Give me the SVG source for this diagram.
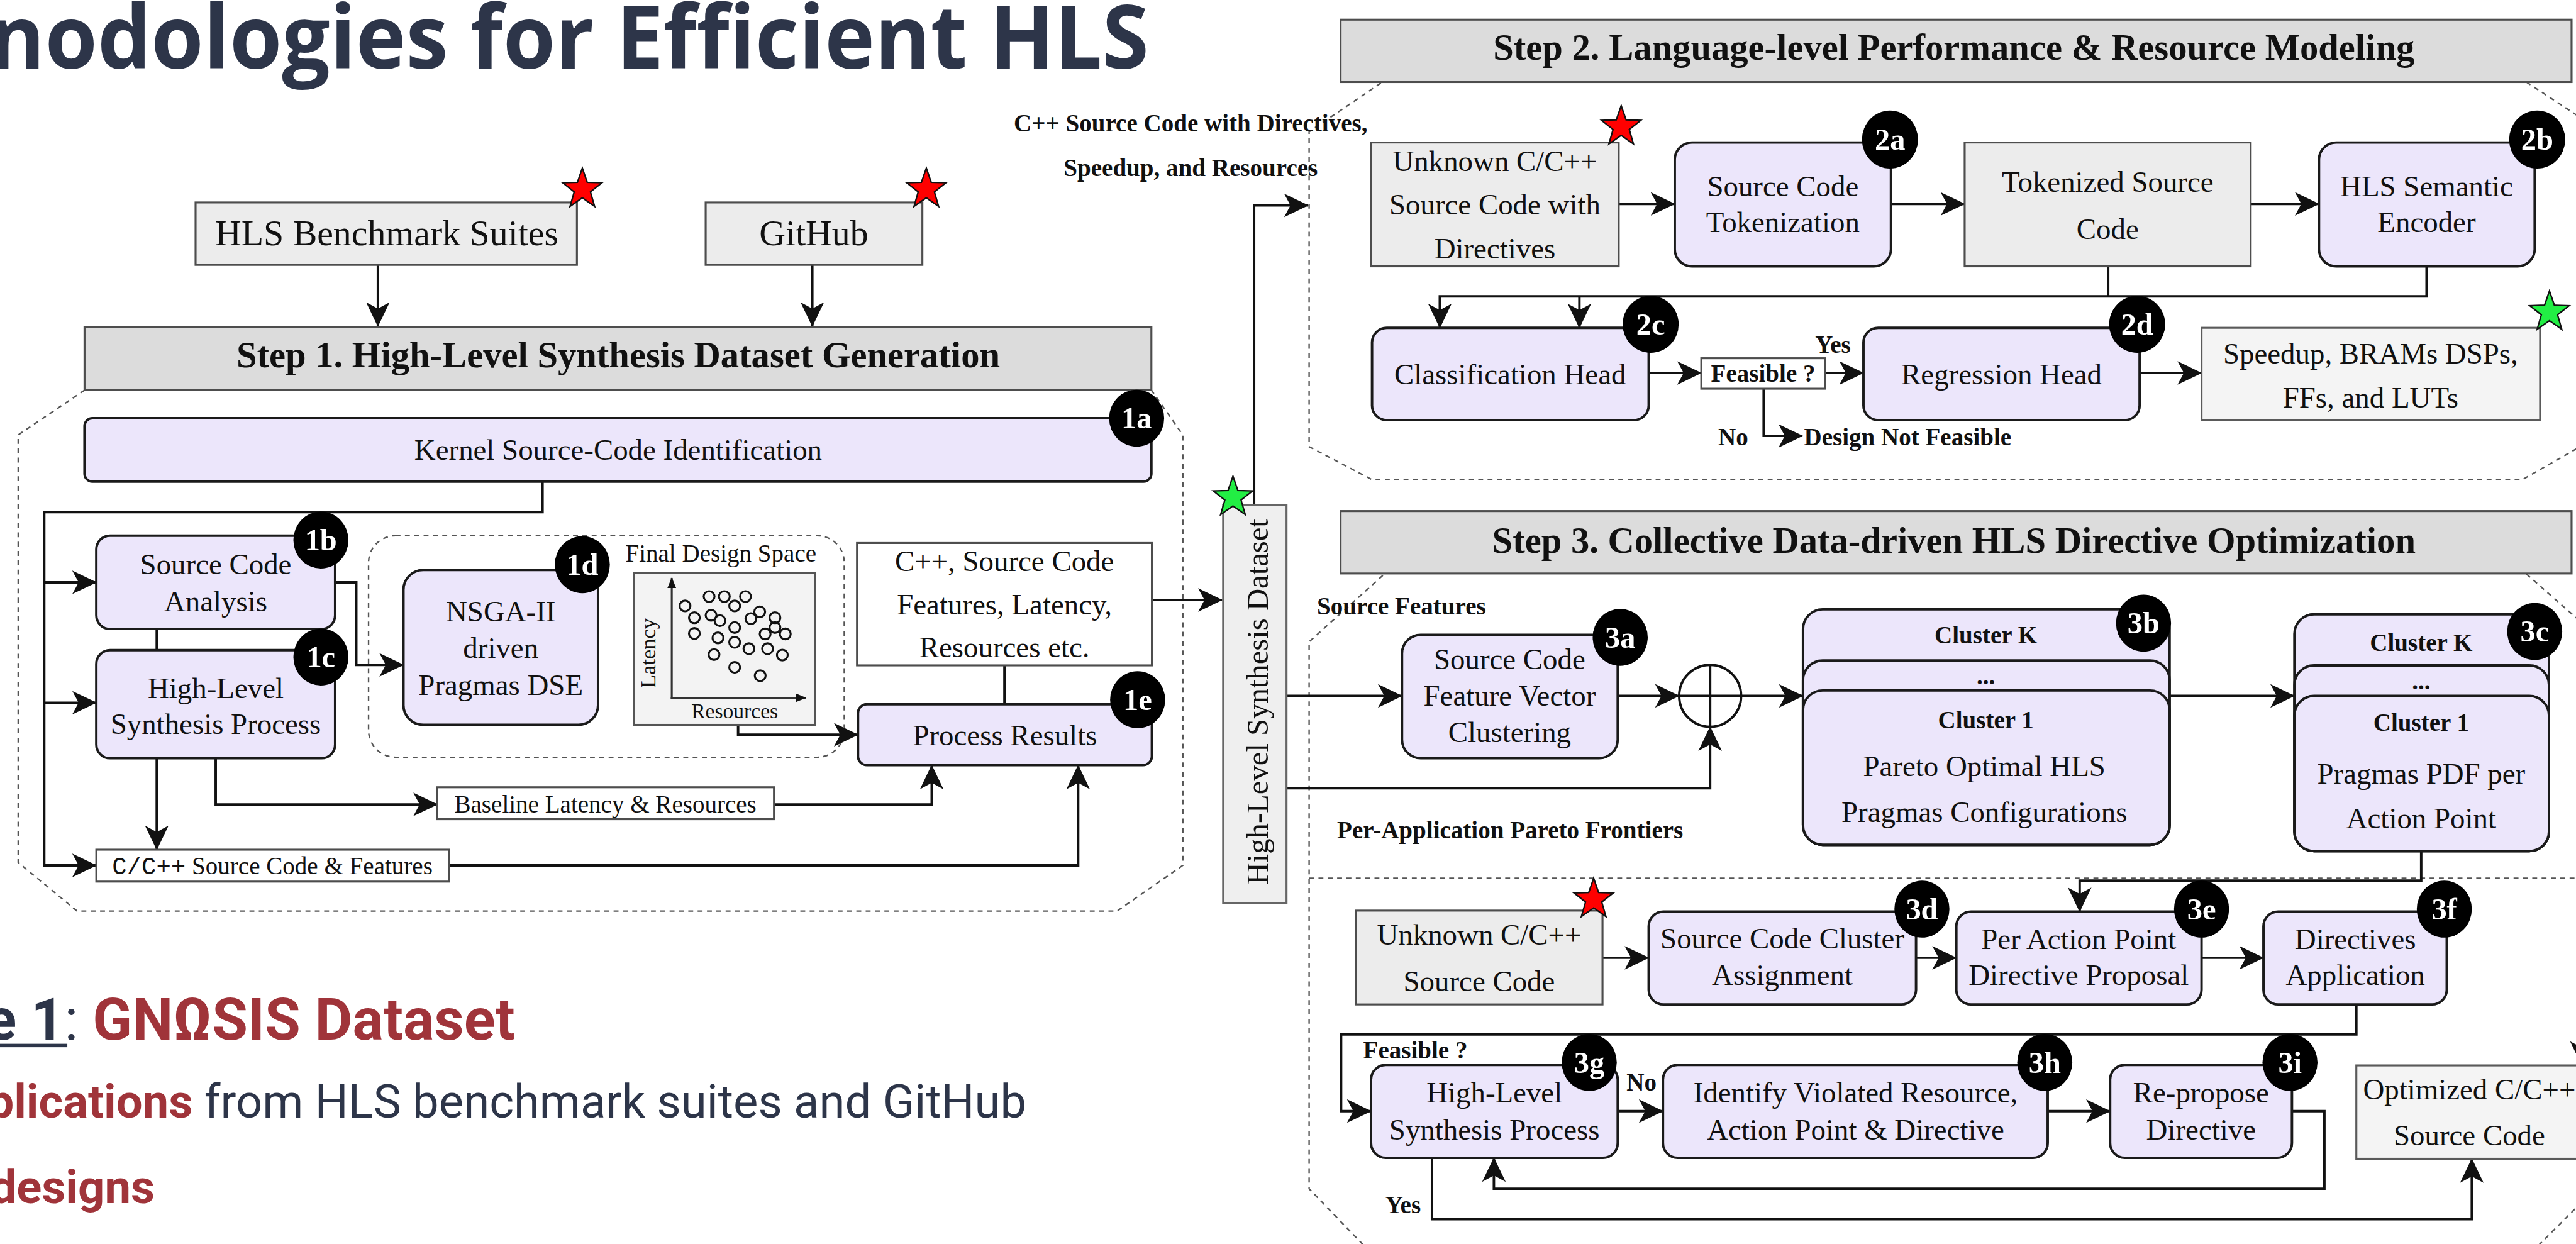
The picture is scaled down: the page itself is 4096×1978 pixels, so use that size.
<svg xmlns="http://www.w3.org/2000/svg" width="4096" height="1978" viewBox="0 0 4096 1978">
<defs>
<style>
.n{fill:#ece6fb;stroke:#1a1a1a;stroke-width:5}
.g{fill:#ececec;stroke:#4d4d4d;stroke-width:4}
.h{fill:#dcdcdc;stroke:#4d4d4d;stroke-width:4}
.w{fill:#ffffff;stroke:#4d4d4d;stroke-width:4}
.l{fill:#f4f4f4;stroke:#5a5a5a;stroke-width:4}
.d{fill:none;stroke:#555;stroke-width:3;stroke-dasharray:10 9}
.c{fill:none;stroke:#111;stroke-width:5}
.ca{fill:none;stroke:#111;stroke-width:5;marker-end:url(#ah)}
.ax{fill:none;stroke:#333;stroke-width:4;marker-end:url(#sa)}
.dot{fill:none;stroke:#111;stroke-width:4}
text{font-family:"Liberation Serif","Times New Roman",serif;fill:#111}
.t{font-size:60px;text-anchor:middle}
.hd{font-size:75px;font-weight:bold;text-anchor:middle}
.lb{font-size:50px;font-weight:bold}
.m{text-anchor:middle}
.bg{fill:#000}
.bt{fill:#fff;font-size:62px;font-weight:bold;text-anchor:middle}
.rs{fill:#ff0000;stroke:#111;stroke-width:3}
.gs{fill:#22ee44;stroke:#111;stroke-width:3}
text.sans{font-family:Roboto,"Liberation Sans",sans-serif}
text.ttl{font-family:"Open Sans","Noto Sans",sans-serif;font-weight:700;fill:#2d3549}
.navy{fill:#2d3549}
.red{fill:#a0343a}
</style>
<marker id="ah" markerUnits="userSpaceOnUse" markerWidth="50" markerHeight="50" viewBox="0 0 50 50" refX="49" refY="25" orient="auto"><path d="M0,1 L50,25 L0,49 L13,25 Z" fill="#111"/></marker>
<marker id="sa" markerUnits="userSpaceOnUse" markerWidth="22" markerHeight="18" viewBox="0 0 22 18" refX="21" refY="9" orient="auto"><path d="M0,0 L22,9 L0,18 Z" fill="#111"/></marker>
<path id="star" d="M0,-43 L10,-14 L40,-13 L16.5,5.5 L25,35 L0,17.5 L-25,35 L-16.5,5.5 L-40,-13 L-10,-14 Z"/>
</defs>
<rect width="4096" height="1978" fill="#ffffff"/>
<g transform="scale(0.78138)">

<!-- Title and side text -->
<g id="title">
<text class="ttl" x="-22" y="140" font-size="180" textLength="2360" lengthAdjust="spacingAndGlyphs">nodologies for Efficient HLS</text>
</g>
<g id="bullets">
<text class="sans navy" y="2115" font-size="118"><tspan x="-30" font-weight="700" class="navy">e 1</tspan><tspan class="navy">: </tspan><tspan font-weight="700" class="red">GNΩSIS Dataset</tspan></text>
<rect x="0" y="2124" width="137" height="7" fill="#2d3549"/>
<text class="sans navy" y="2274" font-size="95"><tspan x="-25" font-weight="700" class="red">plications</tspan><tspan class="navy"> from HLS benchmark suites and GitHub</tspan></text>
<text class="sans red" x="-20" y="2448" font-size="95" font-weight="700">designs</text>
</g>

<!-- dashed regions -->
<g id="regions">
<path class="d" d="M172,794 L37,885 L37,1755 L157,1854 L2273,1854 L2407,1761 L2407,885 L2343,794"/>
<rect class="d" x="750" y="1090" width="968" height="451" rx="55"/>
<path class="d" d="M2810,169 L2664,268 L2664,909 L2792,976 L5133,976 L5275,895"/>
<path class="d" d="M5141,167 L5275,255"/>
<path class="d" d="M2814,1171 L2664,1306 L2664,2419 L2800,2560"/>
<path class="d" d="M5141,1168 L5280,1290"/>
<path class="d" d="M5280,2420 L5140,2560"/>
<path class="d" d="M2664,1787 L5280,1787"/>
</g>

<!-- connectors -->
<g id="connectors">
<path class="ca" d="M769,539 V664"/>
<path class="ca" d="M1653,539 V664"/>
<path class="ca" d="M1104,980 V1042 H90 V1761 H196"/>
<path class="ca" d="M90,1185 H196"/>
<path class="ca" d="M90,1430 H196"/>
<path class="c" d="M319,1280 V1323"/>
<path class="ca" d="M682,1185 H725 V1353 H821"/>
<path class="ca" d="M319,1543 V1729"/>
<path class="ca" d="M439,1543 V1637 H890"/>
<path class="ca" d="M1575,1637 H1896 V1557"/>
<path class="ca" d="M914,1761 H2194 V1557"/>
<path class="ca" d="M1502,1475 V1495 H1746"/>
<path class="c" d="M2044,1354 V1433"/>
<path class="ca" d="M2344,1221 H2487"/>
<path class="ca" d="M2552,1028 V418 H2662"/>
<path class="ca" d="M3294,415 H3408"/>
<path class="ca" d="M3848,415 H3998"/>
<path class="ca" d="M4580,415 H4719"/>
<path class="c" d="M4290,542 V603"/>
<path class="ca" d="M4938,542 V603 H2930 V667"/>
<path class="ca" d="M3214,603 V667"/>
<path class="ca" d="M3355,759 H3462"/>
<path class="ca" d="M3714,759 H3792"/>
<path class="ca" d="M3589,791 V887 H3668"/>
<path class="ca" d="M4354,759 H4480"/>
<path class="ca" d="M2618,1416 H2853"/>
<path class="ca" d="M3292,1416 H3417"/>
<path class="ca" d="M2618,1604 H3480 V1479"/>
<path class="ca" d="M3543,1416 H3669"/>
<path class="ca" d="M4415,1416 H4669"/>
<path class="ca" d="M4927,1732 V1792 H4232 V1855"/>
<path class="ca" d="M3261,1949 H3355"/>
<path class="ca" d="M3899,1949 H3981"/>
<path class="ca" d="M4480,1949 H4606"/>
<path class="ca" d="M4795,2044 V2105 H2729 V2261 H2790"/>
<path class="ca" d="M3292,2261 H3384"/>
<path class="ca" d="M4167,2261 H4294"/>
<path class="ca" d="M4664,2261 H4730 V2419 H3040 V2356"/>
<path class="ca" d="M2914,2356 V2481 H5030 V2358"/>
<path class="ca" d="M5254,2080 V2168"/>
</g>

<!-- connector labels -->
<g id="labels">
<text class="lb m" x="2423" y="267">C++ Source Code with Directives,</text>
<text class="lb m" x="2423" y="358">Speedup, and Resources</text>
<text class="lb m" x="3730" y="718">Yes</text>
<text class="lb m" x="3527" y="906">No</text>
<text class="lb" x="3671" y="906">Design Not Feasible</text>
<text class="lb" x="2680" y="1250">Source Features</text>
<text class="lb m" x="3073" y="1706">Per-Application Pareto Frontiers</text>
<text class="lb" x="2774" y="2154">Feasible ?</text>
<text class="lb" x="3310" y="2219">No</text>
<text class="lb" x="2819" y="2469">Yes</text>
</g>

<!-- Step 1 -->
<g id="hls-bench">
<rect class="g" x="398" y="412" width="776" height="127"/>
<text class="m" font-size="74" x="787" y="499">HLS Benchmark Suites</text>
<use href="#star" class="rs" x="1185" y="385"/>
</g>
<g id="github">
<rect class="g" x="1436" y="412" width="441" height="127"/>
<text class="m" font-size="74" x="1656" y="499">GitHub</text>
<use href="#star" class="rs" x="1885" y="385"/>
</g>
<g id="step1-header">
<rect class="h" x="172" y="665" width="2171" height="128"/>
<text class="hd" x="1258" y="748">Step 1. High-Level Synthesis Dataset Generation</text>
</g>
<g id="n1a">
<rect class="n" x="172" y="851" width="2171" height="129" rx="16"/>
<text class="t" x="1258" y="936">Kernel Source-Code Identification</text>
<ellipse class="bg" cx="2313" cy="851" rx="56" ry="58"/><text class="bt" x="2313" y="872">1a</text>
</g>
<g id="n1b">
<rect class="n" x="196" y="1090" width="486" height="190" rx="28"/>
<text class="t" x="439" y="1168">Source Code</text>
<text class="t" x="439" y="1244">Analysis</text>
<ellipse class="bg" cx="653" cy="1099" rx="56" ry="58"/><text class="bt" x="653" y="1120">1b</text>
</g>
<g id="n1c">
<rect class="n" x="196" y="1323" width="486" height="220" rx="28"/>
<text class="t" x="439" y="1420">High-Level</text>
<text class="t" x="439" y="1493">Synthesis Process</text>
<ellipse class="bg" cx="653" cy="1337" rx="56" ry="58"/><text class="bt" x="653" y="1358">1c</text>
</g>
<g id="n1d">
<rect class="n" x="821" y="1160" width="396" height="315" rx="40"/>
<text class="t" x="1019" y="1264">NSGA-II</text>
<text class="t" x="1019" y="1339">driven</text>
<text class="t" x="1019" y="1414">Pragmas DSE</text>
<ellipse class="bg" cx="1185" cy="1149" rx="56" ry="58"/><text class="bt" x="1185" y="1170">1d</text>
</g>
<g id="design-space">
<text class="m" font-size="50" x="1467" y="1143">Final Design Space</text>
<rect x="1290" y="1166" width="369" height="309" fill="#f3f3f3" stroke="#555" stroke-width="4"/>
<path class="ax" d="M1367,1422 V1176"/>
<path class="ax" d="M1365,1420 H1640"/>
<text class="m" font-size="44" transform="translate(1333,1329) rotate(-90)">Latency</text>
<text class="m" font-size="43" x="1495" y="1462">Resources</text>
<circle class="dot" cx="1443" cy="1214" r="11"/>
<circle class="dot" cx="1474" cy="1214" r="11"/>
<circle class="dot" cx="1517" cy="1214" r="11"/>
<circle class="dot" cx="1495" cy="1233" r="11"/>
<circle class="dot" cx="1394" cy="1233" r="11"/>
<circle class="dot" cx="1413" cy="1257" r="11"/>
<circle class="dot" cx="1447" cy="1252" r="11"/>
<circle class="dot" cx="1465" cy="1263" r="11"/>
<circle class="dot" cx="1495" cy="1277" r="11"/>
<circle class="dot" cx="1528" cy="1259" r="11"/>
<circle class="dot" cx="1546" cy="1245" r="11"/>
<circle class="dot" cx="1577" cy="1257" r="11"/>
<circle class="dot" cx="1577" cy="1277" r="11"/>
<circle class="dot" cx="1557" cy="1290" r="11"/>
<circle class="dot" cx="1598" cy="1290" r="11"/>
<circle class="dot" cx="1413" cy="1289" r="11"/>
<circle class="dot" cx="1461" cy="1298" r="11"/>
<circle class="dot" cx="1495" cy="1307" r="11"/>
<circle class="dot" cx="1524" cy="1320" r="11"/>
<circle class="dot" cx="1562" cy="1320" r="11"/>
<circle class="dot" cx="1592" cy="1333" r="11"/>
<circle class="dot" cx="1453" cy="1332" r="11"/>
<circle class="dot" cx="1495" cy="1358" r="11"/>
<circle class="dot" cx="1547" cy="1375" r="11"/>
</g>
<g id="results-box">
<rect class="w" x="1744" y="1105" width="600" height="249"/>
<text class="t" x="2044" y="1162">C++, Source Code</text>
<text class="t" x="2044" y="1250">Features, Latency,</text>
<text class="t" x="2044" y="1338">Resources etc.</text>
</g>
<g id="n1e">
<rect class="n" x="1746" y="1433" width="598" height="124" rx="18"/>
<text class="t" x="2045" y="1517">Process Results</text>
<ellipse class="bg" cx="2315" cy="1424" rx="56" ry="58"/><text class="bt" x="2315" y="1445">1e</text>
</g>
<g id="baseline-box">
<rect class="w" x="890" y="1602" width="685" height="65"/>
<text class="m" font-size="50" x="1232" y="1653">Baseline Latency &amp; Resources</text>
</g>
<g id="src-features-box">
<rect class="w" x="196" y="1729" width="718" height="65"/>
<text font-size="50" x="228" y="1779"><tspan style="font-family:'Liberation Mono',monospace">C/C++</tspan> Source Code &amp; Features</text>
</g>
<g id="dataset">
<rect x="2489" y="1028" width="129" height="810" fill="#efefef" stroke="#666" stroke-width="4"/>
<text class="m" font-size="62" transform="translate(2580,1428) rotate(-90)" textLength="744" lengthAdjust="spacingAndGlyphs">High-Level Synthesis Dataset</text>
<use href="#star" class="gs" x="2509" y="1012"/>
</g>

<!-- Step 2 -->
<g id="step2-header">
<rect class="h" x="2728" y="40" width="2505" height="127"/>
<text class="hd" x="3976" y="122">Step 2. Language-level Performance &amp; Resource Modeling</text>
</g>
<g id="unknown-src">
<rect class="g" x="2790" y="290" width="504" height="252"/>
<text class="t" x="3042" y="348">Unknown C/C++</text>
<text class="t" x="3042" y="437">Source Code with</text>
<text class="t" x="3042" y="526">Directives</text>
<use href="#star" class="rs" x="3299" y="258"/>
</g>
<g id="n2a">
<rect class="n" x="3408" y="290" width="440" height="252" rx="35"/>
<text class="t" x="3628" y="399">Source Code</text>
<text class="t" x="3628" y="472">Tokenization</text>
<ellipse class="bg" cx="3846" cy="284" rx="57" ry="59"/><text class="bt" x="3846" y="305">2a</text>
</g>
<g id="tokenized">
<rect class="g" x="3998" y="290" width="582" height="252"/>
<text class="t" x="4289" y="390">Tokenized Source</text>
<text class="t" x="4289" y="486">Code</text>
</g>
<g id="n2b">
<rect class="n" x="4719" y="290" width="439" height="252" rx="35"/>
<text class="t" x="4938" y="399">HLS Semantic</text>
<text class="t" x="4938" y="472">Encoder</text>
<ellipse class="bg" cx="5163" cy="284" rx="57" ry="59"/><text class="bt" x="5163" y="305">2b</text>
</g>
<g id="n2c">
<rect class="n" x="2792" y="667" width="563" height="188" rx="30"/>
<text class="t" x="3073" y="782">Classification Head</text>
<ellipse class="bg" cx="3359" cy="660" rx="57" ry="58"/><text class="bt" x="3359" y="681">2c</text>
</g>
<g id="feasible2">
<rect class="w" x="3462" y="729" width="252" height="62"/>
<text class="lb m" x="3588" y="777">Feasible ?</text>
</g>
<g id="n2d">
<rect class="n" x="3792" y="667" width="562" height="188" rx="30"/>
<text class="t" x="4073" y="782">Regression Head</text>
<ellipse class="bg" cx="4349" cy="660" rx="57" ry="58"/><text class="bt" x="4349" y="681">2d</text>
</g>
<g id="speedup">
<rect class="l" x="4480" y="667" width="689" height="188"/>
<text class="t" x="4824" y="740">Speedup, BRAMs DSPs,</text>
<text class="t" x="4824" y="829">FFs, and LUTs</text>
<use href="#star" class="gs" x="5188" y="635"/>
</g>

<!-- Step 3 -->
<g id="step3-header">
<rect class="h" x="2728" y="1040" width="2505" height="127"/>
<text class="hd" x="3976" y="1125">Step 3. Collective Data-driven HLS Directive Optimization</text>
</g>
<g id="n3a">
<rect class="n" x="2853" y="1292" width="439" height="251" rx="38"/>
<text class="t" x="3072" y="1362">Source Code</text>
<text class="t" x="3072" y="1436">Feature Vector</text>
<text class="t" x="3072" y="1510">Clustering</text>
<ellipse class="bg" cx="3297" cy="1297" rx="56" ry="58"/><text class="bt" x="3297" y="1318">3a</text>
</g>
<g id="combine">
<circle cx="3480" cy="1416" r="63" fill="#fff" stroke="#111" stroke-width="5"/>
<path class="c" d="M3417,1416 H3543 M3480,1353 V1479"/>
</g>
<g id="n3b">
<rect class="n" x="3669" y="1240" width="746" height="479" rx="40"/>
<rect class="n" x="3669" y="1344" width="746" height="375" rx="40"/>
<rect class="n" x="3669" y="1405" width="746" height="314" rx="40"/>
<text class="lb m" x="4041" y="1309">Cluster K</text>
<text class="lb m" x="4041" y="1393">...</text>
<text class="lb m" x="4041" y="1482">Cluster 1</text>
<text class="t" x="4038" y="1579">Pareto Optimal HLS</text>
<text class="t" x="4038" y="1673">Pragmas Configurations</text>
<ellipse class="bg" cx="4362" cy="1268" rx="56" ry="58"/><text class="bt" x="4362" y="1289">3b</text>
</g>
<g id="n3c">
<rect class="n" x="4669" y="1250" width="518" height="482" rx="40"/>
<rect class="n" x="4669" y="1354" width="518" height="378" rx="40"/>
<rect class="n" x="4669" y="1416" width="518" height="316" rx="40"/>
<text class="lb m" x="4927" y="1324">Cluster K</text>
<text class="lb m" x="4927" y="1403">...</text>
<text class="lb m" x="4927" y="1487">Cluster 1</text>
<text class="t" x="4927" y="1594">Pragmas PDF per</text>
<text class="t" x="4927" y="1686">Action Point</text>
<ellipse class="bg" cx="5158" cy="1285" rx="56" ry="58"/><text class="bt" x="5158" y="1306">3c</text>
</g>
<g id="unknown-src2">
<rect class="g" x="2759" y="1853" width="502" height="191"/>
<text class="t" x="3010" y="1922">Unknown C/C++</text>
<text class="t" x="3010" y="2017">Source Code</text>
<use href="#star" class="rs" x="3243" y="1830"/>
</g>
<g id="n3d">
<rect class="n" x="3355" y="1855" width="544" height="189" rx="30"/>
<text class="t" x="3627" y="1930">Source Code Cluster</text>
<text class="t" x="3627" y="2004">Assignment</text>
<ellipse class="bg" cx="3911" cy="1850" rx="56" ry="58"/><text class="bt" x="3911" y="1871">3d</text>
</g>
<g id="n3e">
<rect class="n" x="3981" y="1855" width="499" height="189" rx="30"/>
<text class="t" x="4230" y="1931">Per Action Point</text>
<text class="t" x="4230" y="2004">Directive Proposal</text>
<ellipse class="bg" cx="4480" cy="1850" rx="56" ry="58"/><text class="bt" x="4480" y="1871">3e</text>
</g>
<g id="n3f">
<rect class="n" x="4606" y="1855" width="373" height="189" rx="30"/>
<text class="t" x="4793" y="1931">Directives</text>
<text class="t" x="4793" y="2004">Application</text>
<ellipse class="bg" cx="4974" cy="1850" rx="56" ry="58"/><text class="bt" x="4974" y="1871">3f</text>
</g>
<g id="n3g">
<rect class="n" x="2790" y="2167" width="502" height="189" rx="30"/>
<text class="t" x="3041" y="2244">High-Level</text>
<text class="t" x="3041" y="2319">Synthesis Process</text>
<ellipse class="bg" cx="3234" cy="2162" rx="56" ry="58"/><text class="bt" x="3234" y="2183">3g</text>
</g>
<g id="n3h">
<rect class="n" x="3384" y="2167" width="783" height="189" rx="30"/>
<text class="t" x="3776" y="2244">Identify Violated Resource,</text>
<text class="t" x="3776" y="2319">Action Point &amp; Directive</text>
<ellipse class="bg" cx="4161" cy="2162" rx="56" ry="58"/><text class="bt" x="4161" y="2183">3h</text>
</g>
<g id="n3i">
<rect class="n" x="4294" y="2167" width="370" height="189" rx="30"/>
<text class="t" x="4479" y="2244">Re-propose</text>
<text class="t" x="4479" y="2319">Directive</text>
<ellipse class="bg" cx="4660" cy="2162" rx="56" ry="58"/><text class="bt" x="4660" y="2183">3i</text>
</g>
<g id="optimized">
<rect class="l" x="4795" y="2168" width="470" height="190"/>
<text class="t" x="5025" y="2237">Optimized C/C++</text>
<text class="t" x="5025" y="2331">Source Code</text>
</g>
</g>
</svg>
